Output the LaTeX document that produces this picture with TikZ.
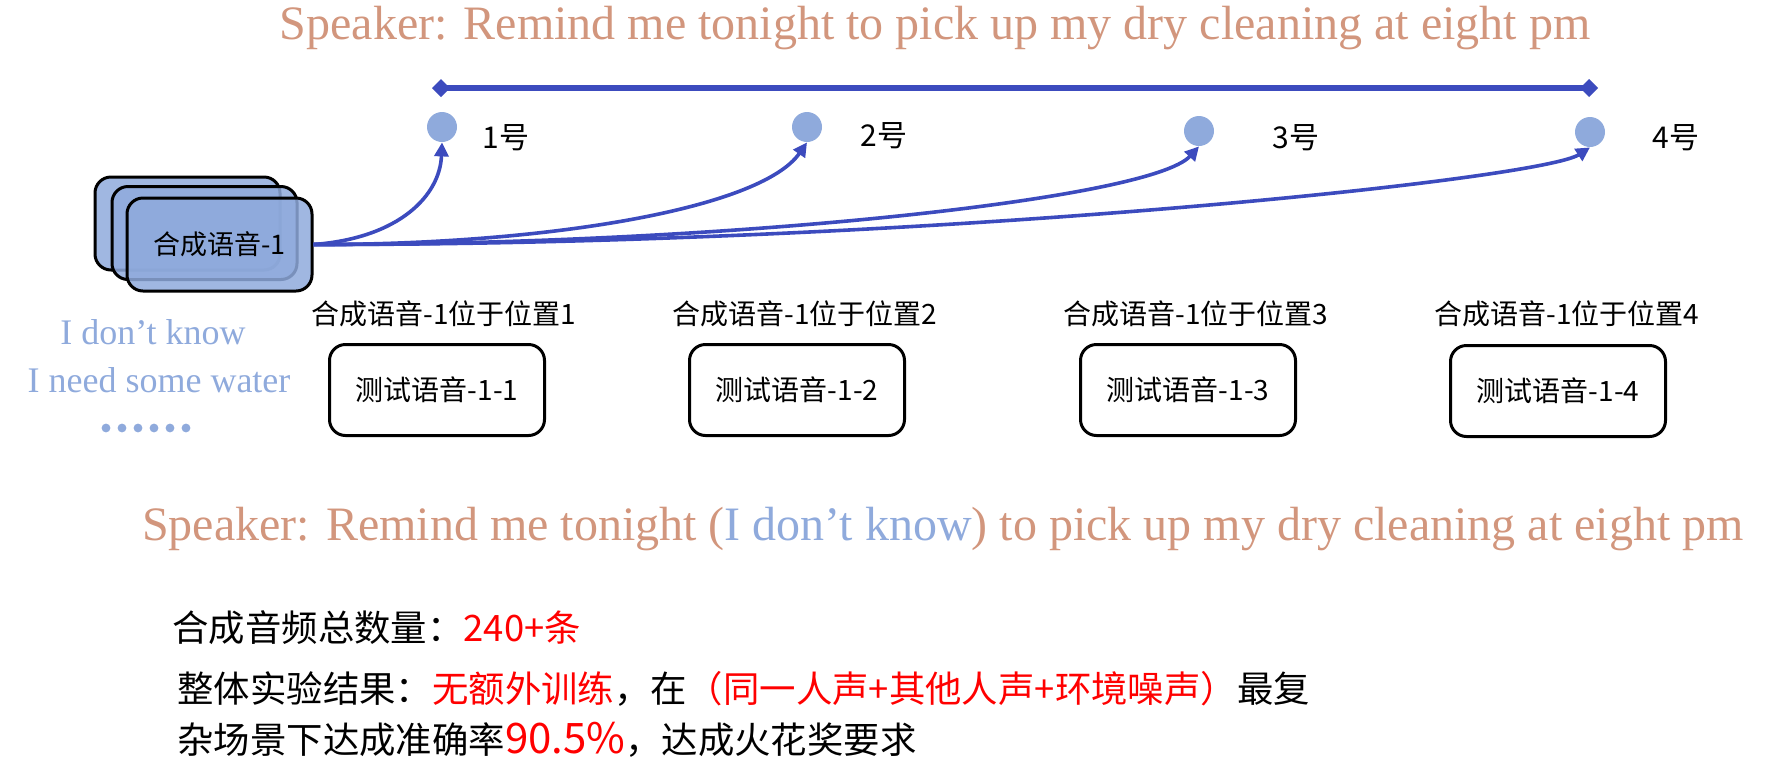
\documentclass[tikz,border=0pt]{standalone}
\usepackage{fontspec}
\setmainfont{Liberation Serif}
\newfontfamily\cjk{Noto Sans CJK SC}
\usetikzlibrary{arrows.meta}
\definecolor{salmon}{RGB}{210,150,125}
\definecolor{lblue}{RGB}{143,170,220}
\definecolor{dblue}{RGB}{60,75,190}
\definecolor{myred}{RGB}{255,0,0}
\begin{document}
\begin{tikzpicture}[x=0.5pt,y=-0.5pt,
  stackbox/.style={draw=black, line width=1.5pt, rounded corners=8pt, fill=lblue, fill opacity=0.85, text opacity=1, minimum width=92.5pt, minimum height=46.5pt, inner sep=0pt, font=\cjk\fontsize{13.5}{16}\selectfont},
  testbox/.style={draw=black, line width=1.5pt, rounded corners=8pt, fill=white, minimum width=107.5pt, minimum height=45.5pt, inner sep=0pt, font=\cjk\fontsize{14}{16}\selectfont},
  posdot/.style={circle, fill=lblue, minimum size=15pt, inner sep=0pt},
  poslabel/.style={font=\cjk\fontsize{15}{18}\selectfont, inner sep=0pt},
  loclabel/.style={font=\cjk\fontsize{14}{16}\selectfont, inner sep=0pt},
  conn/.style={draw=dblue, line width=1.8pt, -{Triangle[length=7pt,width=7pt]}},
  bottomtxt/.style={font=\cjk\fontsize{18.2}{22}\selectfont, inner sep=0pt, anchor=west},
  speaker/.style={font=\fontsize{24}{28}\selectfont, text=salmon, inner sep=0pt},
  bluetxt/.style={font=\fontsize{18}{22}\selectfont, text=lblue, inner sep=0pt}
]
\useasboundingbox (0,0) rectangle (1769,762);

% title
\node[speaker] (title) at (935,28) {Speaker: Remind me tonight to pick up my dry cleaning at eight pm};

% timeline
\coordinate (lineL) at (432,88);
\coordinate (lineR) at (1598,88);
\draw[dblue, line width=3pt, {Diamond[length=9pt,width=9pt]}-{Diamond[length=9pt,width=9pt]}] (lineL) -- (lineR);

% position dots
\node[posdot] (d1) at (442,127) {};
\node[posdot] (d2) at (807,127) {};
\node[posdot] (d3) at (1199,131) {};
\node[posdot] (d4) at (1590,132) {};
\node[poslabel] (n1) at (506,138) {1号};
\node[poslabel] (n2) at (884,136) {2号};
\node[poslabel] (n3) at (1296,138) {3号};
\node[poslabel] (n4) at (1676,138) {4号};

% stacked boxes
\node[stackbox] (b1) at (187.5,223.5) {};
\node[stackbox] (b2) at (204.5,233) {};
\node[stackbox] (b3) at (219.5,244.5) {合成语音-1};

% connectors
\draw[conn] (b3.east) .. controls (400,238) and (440,195) .. (d1.south);
\draw[conn] (b3.east) .. controls (540,245) and (760,210) .. (d2.south);
\draw[conn] (b3.east) .. controls (720,245) and (1150,200) .. (d3.south);
\draw[conn] (b3.east) .. controls (920,245) and (1540,180) .. (d4.south);

% location labels and test boxes
\node[loclabel] (l1) at (444,314) {合成语音-1位于位置1};
\node[loclabel] (l2) at (805,314) {合成语音-1位于位置2};
\node[loclabel] (l3) at (1196,314) {合成语音-1位于位置3};
\node[loclabel] (l4) at (1567,314) {合成语音-1位于位置4};
\node[testbox] (t1) at (437,390) {测试语音-1-1};
\node[testbox] (t2) at (797,390) {测试语音-1-2};
\node[testbox] (t3) at (1188,390) {测试语音-1-3};
\node[testbox] (t4) at (1558,391) {测试语音-1-4};

% other speech samples
\node[bluetxt] (s1) at (153,332) {I don’t know};
\node[bluetxt] (s2) at (159,380) {I need some water};
\foreach \k in {0,...,5} {
  \fill[lblue] (106+16*\k,428) circle (2.2pt);
}

% combined sentence
\node[speaker] (sent) at (943,529) {Speaker: Remind me tonight (\textcolor{lblue}{I don’t know}) to pick up my dry cleaning at eight pm};

% bottom summary
\node[bottomtxt] (sum1) at (172,628) {合成音频总数量：\textcolor{myred}{240+条}};
\node[bottomtxt] (sum2) at (177,689) {整体实验结果：\textcolor{myred}{无额外训练}，在\textcolor{myred}{（同一人声+其他人声+环境噪声）}最复};
\node[bottomtxt] (sum3) at (177,740) {杂场景下达成准确率\textcolor{myred}{\fontsize{21}{22}\selectfont 90.5\%}，达成火花奖要求};
\end{tikzpicture}
\end{document}
